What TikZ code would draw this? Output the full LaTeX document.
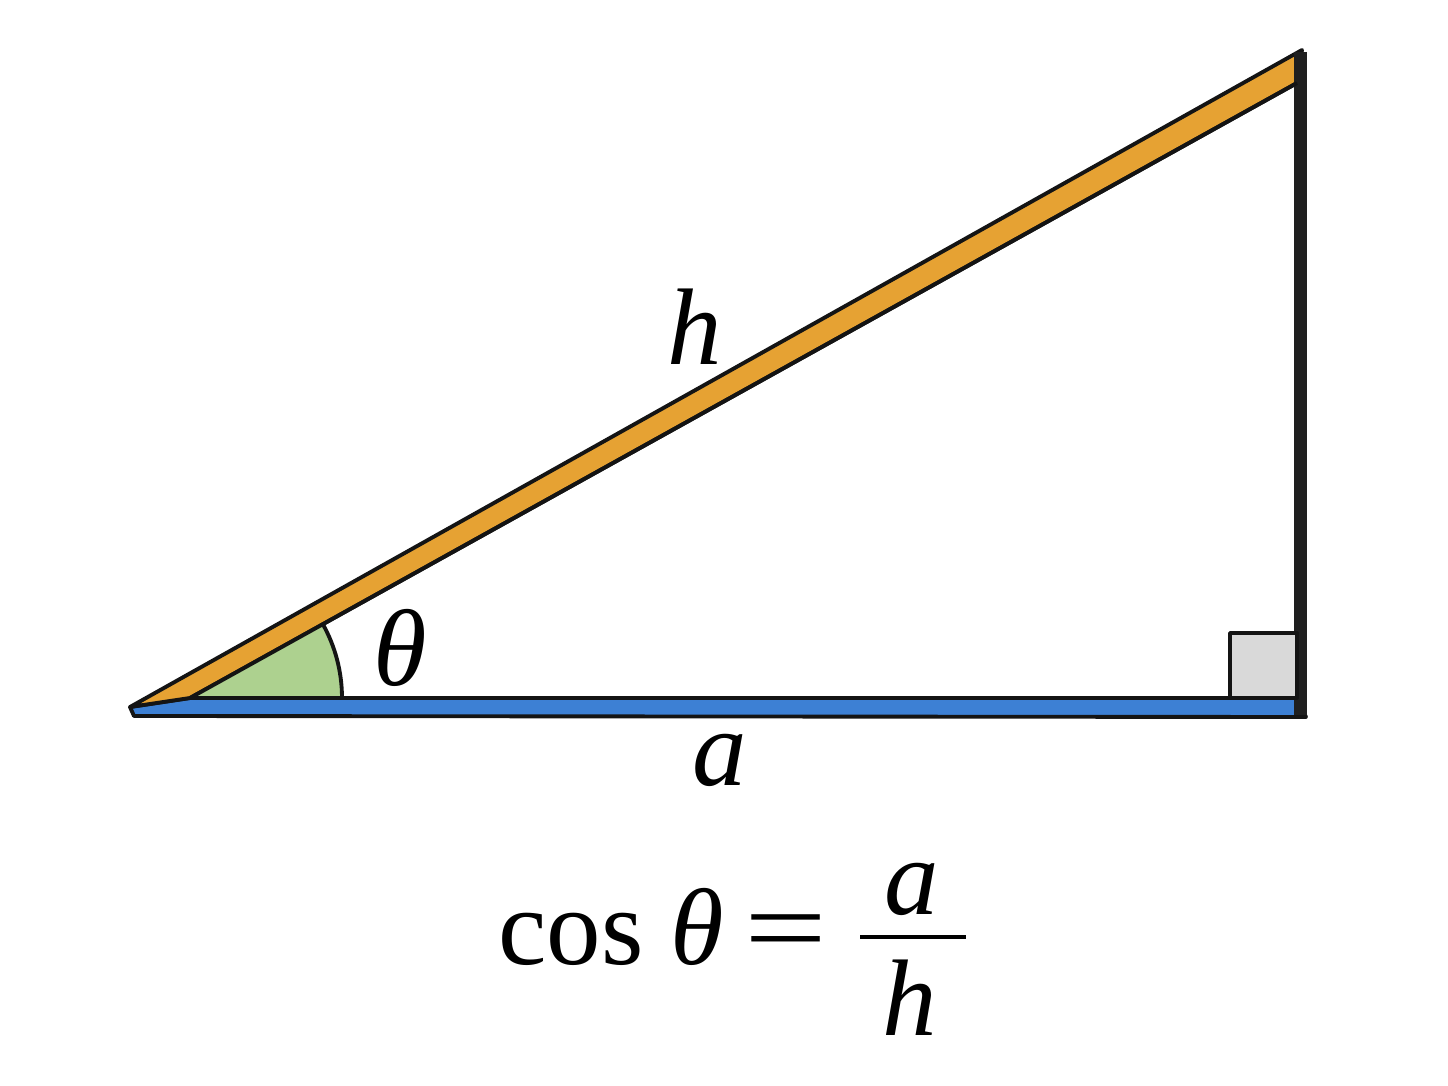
\documentclass[tikz,border=0pt]{standalone}
\usepackage{fontspec}
\setmainfont{Liberation Serif}
\usepackage{graphicx}
\usetikzlibrary{calc}
\begin{document}
\begin{tikzpicture}[x=0.02cm,y=0.02cm,line join=round,
  edge/.style={draw=black!92,line width=2.2pt},
  lbl/.style={inner sep=0pt,anchor=base,font=\fontsize{62}{72}\selectfont\itshape},
  rm/.style={inner sep=0pt,anchor=base,font=\fontsize{62}{72}\selectfont}]
\definecolor{hyporange}{HTML}{E6A233}
\definecolor{adjblue}{HTML}{3D80D4}
\definecolor{anggreen}{HTML}{ADD18F}
\definecolor{sqgray}{HTML}{D9D9D9}
\useasboundingbox (0,0) rectangle (1448,1086);
\fill[white] (0,0) rectangle (1448,1086);
% key points
\coordinate (V) at (130,379);
\coordinate (T) at (1302,1036);
\coordinate (OR) at (1297,1003);
\coordinate (OL) at (190,388);
\coordinate (BR) at (1297,388);
\coordinate (BRb) at (1306,369);
\coordinate (BLb) at (134,370);
\coordinate (C) at (190,388);
% blue adjacent side
\path[edge,fill=adjblue] (V) -- (OL) -- (BR) -- (BRb) -- (BLb) -- cycle;
% orange hypotenuse
\path[edge,fill=hyporange] (V) -- (T) -- (OR) -- (OL) -- cycle;
% vertical side
\draw[black!88,line width=7pt] (1300.5,1034) -- (1300.5,371);
% right angle square
\path[edge,fill=sqgray] (1230,388) rectangle (1297,453);
% angle sector
\fill[anggreen] (C) -- ++(0:152) arc[start angle=0,end angle=29.2,radius=152] -- cycle;
\draw[edge] ($(C)+(0:152)$) arc[start angle=0,end angle=29.2,radius=152];
\draw[edge] (OL) -- (OR);
\draw[edge] (OL) -- (BR);
% labels
\node[lbl] (hl) at (695,721) {h};
\node[lbl] (tl) at (400,400) {θ};
\node[lbl] (al) at (720,300) {a};
% formula
\node[rm,anchor=base west] (cosl) at (498,121) {cos};
\node[lbl] (th) at (697,121) {θ};
\node[rm] (eql) at (786,121) {\scalebox{1.35}[1]{=}};
\node[lbl] (num) at (912,171) {a};
\node[lbl] (den) at (910,51) {h};
\coordinate (barL) at (860,149);
\coordinate (barR) at (966,149);
\draw[line width=2.8pt] (barL) -- (barR);
\end{tikzpicture}
\end{document}
